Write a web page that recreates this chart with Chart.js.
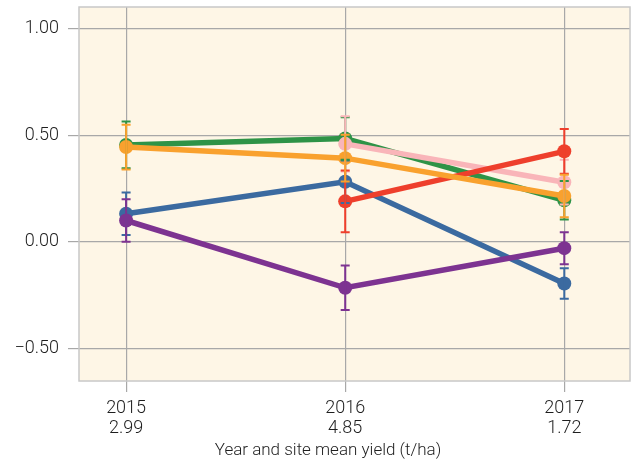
<!DOCTYPE html>
<html>
<head>
<meta charset="utf-8">
<title>Yield response by year</title>
<script src="https://cdn.jsdelivr.net/npm/chart.js@4"></script>
<style>
  html, body { margin: 0; padding: 0; background: #ffffff; }
</style>
</head>
<body>
<canvas id="yieldChart" width="638" height="470"></canvas>
<script>
// Years on the x axis and the site mean yield shown under each year
const years = [2015, 2016, 2017];
const siteYield = ['2.99', '4.85', '1.72'];
const yTicks = [-0.5, 0, 0.5, 1.0];
const xTitle = 'Year and site mean yield (t/ha)';

// Series means (null = not measured that year) and their error half-widths
const greenValues = [0.455, 0.485, 0.195];
const greenErrors = [0.11, 0.10, 0.09];
const orangeValues = [0.445, 0.393, 0.215];
const orangeErrors = [0.105, 0.11, 0.10];
const pinkValues = [null, 0.46, 0.28];
const pinkErrors = [null, 0.13, 0.105];
const redValues = [null, 0.19, 0.425];
const redErrors = [null, 0.145, 0.105];
const blueValues = [0.132, 0.282, -0.196];
const blueErrors = [0.10, 0.10, 0.072];
const purpleValues = [0.10, -0.216, -0.03];
const purpleErrors = [0.10, 0.105, 0.075];

const textColor = '#1e1e1e';
const gridColor = '#a8a8a8';
const fontFamily = 'Roboto';

function makeSeries(values, errors, color) {
    return {
        data: years.map((yr, i) => ({ x: yr, y: values[i] })),
        errors: errors,
        borderColor: color,
        backgroundColor: color,
        borderWidth: 5.5,
        pointRadius: 7,
        pointHoverRadius: 7,
        pointBorderWidth: 0,
        fill: false,
        tension: 0
    };
}

// first dataset ends up on top
const datasets = [
    makeSeries(orangeValues, orangeErrors, '#f9a12e'),
    makeSeries(redValues, redErrors, '#ee3f2c'),
    makeSeries(pinkValues, pinkErrors, '#f9b5b9'),
    makeSeries(greenValues, greenErrors, '#2e9347'),
    makeSeries(purpleValues, purpleErrors, '#7d3391'),
    makeSeries(blueValues, blueErrors, '#3b6aa0')
];

// cream plot background + light frame
const plotBackground = {
    id: 'plotBackground',
    beforeDraw(chart) {
        const { ctx, chartArea: a } = chart;
        ctx.save();
        ctx.fillStyle = '#fef6e6';
        ctx.fillRect(a.left, a.top, a.right - a.left, a.bottom - a.top);
        ctx.restore();
    },
    beforeDatasetsDraw(chart) {
        const { ctx, chartArea: a } = chart;
        ctx.save();
        ctx.strokeStyle = '#c8c8c8';
        ctx.lineWidth = 1.5;
        ctx.strokeRect(a.left, a.top, a.right - a.left, a.bottom - a.top);
        ctx.restore();
    }
};

// vertical error bars with small caps
const errorBars = {
    id: 'errorBars',
    afterDatasetsDraw(chart) {
        const { ctx, scales: { x, y } } = chart;
        ctx.save();
        ctx.lineWidth = 2;
        for (let i = chart.data.datasets.length - 1; i >= 0; i--) {
            const ds = chart.data.datasets[i];
            ctx.strokeStyle = ds.borderColor;
            ds.data.forEach((pt, j) => {
                const e = ds.errors[j];
                if (pt.y == null || e == null) return;
                const px = x.getPixelForValue(pt.x);
                const top = y.getPixelForValue(pt.y + e);
                const bottom = y.getPixelForValue(pt.y - e);
                ctx.beginPath();
                ctx.moveTo(px, top);
                ctx.lineTo(px, bottom);
                ctx.moveTo(px - 4.5, top);
                ctx.lineTo(px + 4.5, top);
                ctx.moveTo(px - 4.5, bottom);
                ctx.lineTo(px + 4.5, bottom);
                ctx.stroke();
            });
        }
        ctx.restore();
    }
};

// axis title sits a little left of the plot centre
const axisTitle = {
    id: 'axisTitle',
    afterDraw(chart) {
        const { ctx } = chart;
        ctx.save();
        ctx.fillStyle = textColor;
        ctx.font = '300 17px ' + fontFamily;
        ctx.textAlign = 'center';
        ctx.textBaseline = 'alphabetic';
        ctx.fillText(xTitle, 328, 455);
        ctx.restore();
    }
};

const ctx = document.getElementById('yieldChart').getContext('2d');
const yieldChart = new Chart(ctx, {
    type: 'line',
    data: { datasets: datasets },
    plugins: [plotBackground, errorBars, axisTitle],
    options: {
        responsive: false,
        animation: false,
        layout: { padding: { top: 5, right: 8, left: 0, bottom: 0 } },
        plugins: {
            legend: { display: false },
            tooltip: { enabled: false }
        },
        scales: {
            x: {
                type: 'linear',
                min: 2014.785,
                max: 2017.30,
                afterBuildTicks: (scale) => { scale.ticks = years.map(v => ({ value: v })); },
                afterFit: (scale) => {
                    scale.height = 89;
                    scale.paddingLeft = 0;
                    scale.paddingRight = 0;
                },
                border: { display: false },
                grid: { color: gridColor, lineWidth: 1.2, tickLength: 11, tickColor: gridColor },
                ticks: {
                    autoSkip: false,
                    maxRotation: 0,
                    padding: 7,
                    color: textColor,
                    font: { family: fontFamily, size: 18, weight: 300, lineHeight: 1.1 },
                    callback: (v) => [String(v), siteYield[years.indexOf(v)]]
                },
                title: { display: false }
            },
            y: {
                min: -0.654,
                max: 1.103,
                afterBuildTicks: (scale) => { scale.ticks = yTicks.map(v => ({ value: v })); },
                afterFit: (scale) => {
                    scale.width = 79;
                    scale.paddingTop = 0;
                    scale.paddingBottom = 0;
                },
                border: { display: false },
                grid: { color: gridColor, lineWidth: 1.2, tickLength: 11, tickColor: gridColor },
                ticks: {
                    padding: 9,
                    color: textColor,
                    font: { family: fontFamily, size: 18, weight: 300 },
                    callback: (v) => (v < 0 ? '\u2212' + Math.abs(v).toFixed(2) : v.toFixed(2))
                }
            }
        }
    }
});
</script>
</body>
</html>
